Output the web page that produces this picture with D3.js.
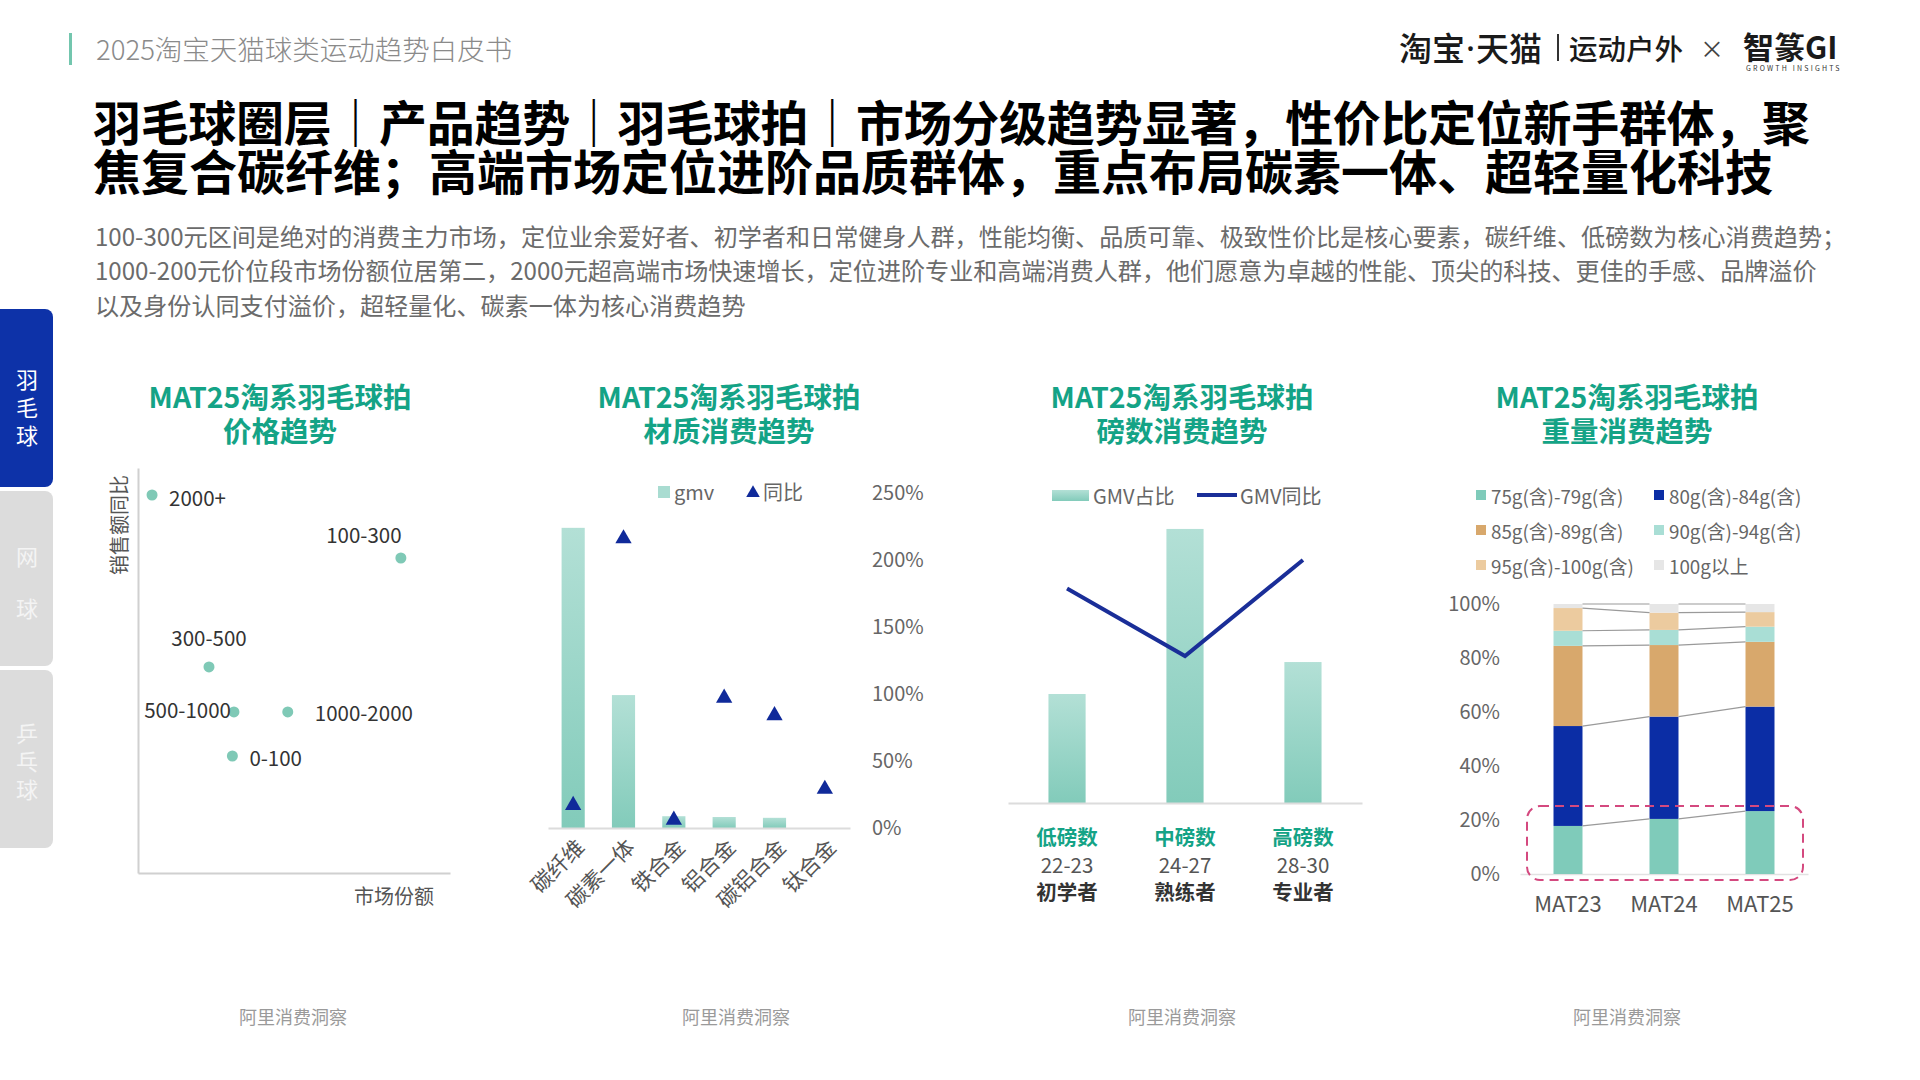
<!DOCTYPE html>
<html><head><meta charset="utf-8">
<script src="https://cdn.jsdelivr.net/npm/d3@7"></script>
<style>
body{margin:0;background:#fff}
svg{display:block}
text{font-family:"Noto Sans CJK SC","Noto Sans",sans-serif}
</style>
</head><body>
<svg id="c" width="1920" height="1080"></svg>
<script>
// ---------- data ----------
const headerText = "2025淘宝天猫球类运动趋势白皮书";
const titleLines = ["羽毛球圈层｜产品趋势｜羽毛球拍｜市场分级趋势显著，性价比定位新手群体，聚",
                    "焦复合碳纤维；高端市场定位进阶品质群体，重点布局碳素一体、超轻量化科技"];
const descLines = ["100-300元区间是绝对的消费主力市场，定位业余爱好者、初学者和日常健身人群，性能均衡、品质可靠、极致性价比是核心要素，碳纤维、低磅数为核心消费趋势；",
                   "1000-200元价位段市场份额位居第二，2000元超高端市场快速增长，定位进阶专业和高端消费人群，他们愿意为卓越的性能、顶尖的科技、更佳的手感、品牌溢价",
                   "以及身份认同支付溢价，超轻量化、碳素一体为核心消费趋势"];
const tabs = [["羽","毛","球"],["网","球"],["乒","乓","球"]];
const chartTitles = [["MAT25淘系羽毛球拍","价格趋势"],["MAT25淘系羽毛球拍","材质消费趋势"],
                     ["MAT25淘系羽毛球拍","磅数消费趋势"],["MAT25淘系羽毛球拍","重量消费趋势"]];
const sourceText = "阿里消费洞察";

// chart 1: price bands (x = market share %, y = sales YoY %)
const priceBands = ["2000+","100-300","300-500","500-1000","1000-2000","0-100"];
const priceShare = [1.8, 33.7, 9.1, 12.3, 19.2, 12.1];
const priceGrowth = [54, 40, 15.8, 5.8, 5.8, -4];

// chart 2: materials
const materials = ["碳纤维","碳素一体","铁合金","铝合金","碳铝合金","钛合金"];
const materialGmv = [0.56, 0.248, 0.022, 0.0205, 0.019, 0];
const materialYoY = [0.17, 2.16, 0.06, 0.97, 0.84, 0.29];
const yoyTicks = [0, 0.5, 1, 1.5, 2, 2.5];

// chart 3: string tension
const tensionGroups = ["低磅数","中磅数","高磅数"];
const tensionRanges = ["22-23","24-27","28-30"];
const tensionUsers = ["初学者","熟练者","专业者"];
const tensionShare = [20.8, 52.3, 26.9];
const tensionYoY = [68.3, 46.8, 77.4];

// chart 4: weight (share %, stacked)
const periods = ["MAT23","MAT24","MAT25"];
const weightSeries = ["75g(含)-79g(含)","80g(含)-84g(含)","85g(含)-89g(含)","90g(含)-94g(含)","95g(含)-100g(含)","100g以上"];
const w75_79  = [17.8, 20.4, 23.3];
const w80_84  = [37.0, 37.9, 38.7];
const w85_89  = [29.7, 26.5, 24.0];
const w90_94  = [5.6, 5.6, 5.6];
const w95_100 = [8.4, 6.4, 5.4];
const w100up  = [1.5, 3.2, 3.0];
const weightTicks = [0, 20, 40, 60, 80, 100];

// ---------- drawing ----------
const svg = d3.select("#c");
const teal = "#14a386";
const dotColor = "#7fc9b6";

const defs = svg.append("defs");
const grad = defs.append("linearGradient").attr("id","barGrad").attr("x1",0).attr("y1",0).attr("x2",0).attr("y2",1);
grad.append("stop").attr("offset","0%").attr("stop-color","#b3e0d6");
grad.append("stop").attr("offset","100%").attr("stop-color","#82cbba");

// header
svg.append("rect").attr("x",69).attr("y",33).attr("width",3).attr("height",32).attr("fill","#73c6ae");
svg.append("text").attr("x",96).attr("y",48).attr("dominant-baseline","central")
  .attr("font-size",27.5).attr("font-weight",300).attr("fill","#8a8a8a").text(headerText);

// logo
const logo = svg.append("g");
const brand = logo.append("text").attr("x",1399).attr("y",47).attr("dominant-baseline","central")
  .attr("font-size",33).attr("font-weight",500).attr("fill","#1a1a1a");
brand.append("tspan").text("淘宝");
brand.append("tspan").attr("font-family","Noto Sans").attr("dx",1).text("·");
brand.append("tspan").attr("dx",1).text("天猫");
logo.append("rect").attr("x",1557).attr("y",34).attr("width",2).attr("height",27).attr("fill","#333");
logo.append("text").attr("x",1569).attr("y",47).attr("dominant-baseline","central")
  .attr("font-size",28.5).attr("font-weight",500).attr("fill","#1a1a1a").text("运动户外");
logo.append("text").attr("x",1712).attr("y",47).attr("dominant-baseline","central").attr("text-anchor","middle")
  .attr("font-size",24).attr("fill","#444").text("×");
logo.append("text").attr("x",1743).attr("y",45).attr("dominant-baseline","central")
  .attr("font-size",31).attr("font-weight",700).attr("fill","#1a1a1a").text("智篆GI");
logo.append("text").attr("x",1746).attr("y",68).attr("dominant-baseline","central")
  .attr("font-size",7).attr("letter-spacing",2.2).attr("fill","#333").text("GROWTH  INSIGHTS");

// title
titleLines.forEach((t,i)=>{
  const tx = svg.append("text").attr("x",93).attr("y",120+i*49).attr("dominant-baseline","central")
    .attr("font-size",48).attr("font-weight",700).attr("fill","#000").text(t);
  if(i===0) tx.attr("textLength",1717).attr("lengthAdjust","spacing");
});
descLines.forEach((t,i)=>{
  svg.append("text").attr("x",95).attr("y",235+i*34.5).attr("dominant-baseline","central")
    .attr("font-size",24.1).attr("fill","#6b6b6b").text(t);
});

// side tabs
const tabBoxes = [[309,487],[491,666],[670,848]];
tabs.forEach((chars,i)=>{
  const [y0,y1] = tabBoxes[i];
  svg.append("rect").attr("x",-10).attr("y",y0).attr("width",63).attr("height",y1-y0).attr("rx",8)
    .attr("fill", i===0 ? "#0d32a8" : "#dcdcdc");
  const ys = i===0 ? [378,406,434] : (i===1 ? [555,607] : [732,760,788]);
  chars.forEach((c,j)=>{
    svg.append("text").attr("x",27).attr("y",ys[j]).attr("text-anchor","middle").attr("dominant-baseline","central")
      .attr("font-size",22).attr("fill", i===0 ? "#fff" : "#f4f4f4").text(c);
  });
});

// chart titles and sources
const titleCx = [280, 729, 1182, 1627];
const sourceCx = [293, 736, 1182, 1627];
chartTitles.forEach((lines,i)=>{
  lines.forEach((t,j)=>{
    svg.append("text").attr("x",titleCx[i]).attr("y",395+j*34).attr("text-anchor","middle").attr("dominant-baseline","central")
      .attr("font-size",28.5).attr("font-weight",700).attr("fill",teal).text(t);
  });
  svg.append("text").attr("x",sourceCx[i]).attr("y",1016).attr("text-anchor","middle").attr("dominant-baseline","central")
    .attr("font-size",18).attr("fill","#9a9a9a").text(sourceText);
});

// ----- chart 1: scatter -----
{
  const g = svg.append("g");
  const x = d3.scaleLinear().domain([0,40]).range([138,450]);
  const y = d3.scaleLinear().domain([-30,60]).range([873,468]);
  g.append("g").attr("transform","translate(0,873)")
    .call(d3.axisBottom(x).ticks(0).tickSize(0).tickFormat(""))
    .call(s=>s.select(".domain").attr("stroke","#d0d0d0").attr("stroke-width",2));
  g.append("g").attr("transform","translate(138,0)")
    .call(d3.axisLeft(y).ticks(0).tickSize(0).tickFormat(""))
    .call(s=>s.select(".domain").attr("stroke","#d0d0d0").attr("stroke-width",2));
  g.append("text").attr("transform","translate(118,525) rotate(-90)").attr("text-anchor","middle").attr("dominant-baseline","central")
    .attr("font-size",20).attr("fill","#555").text("销售额同比");
  g.append("text").attr("x",394).attr("y",895).attr("text-anchor","middle").attr("dominant-baseline","central")
    .attr("font-size",20).attr("fill","#555").text("市场份额");
  const pts = priceBands.map((b,i)=>({b, s:priceShare[i], g:priceGrowth[i]}));
  g.selectAll("circle").data(pts).join("circle")
    .attr("cx",d=>x(d.s)).attr("cy",d=>y(d.g)).attr("r",5.5).attr("fill",dotColor);
  // label placement relative to dot: [dx, dy, anchor]
  const place = {"2000+":[17,2,"start"],"100-300":[-37,-24,"middle"],"300-500":[0,-30,"middle"],
                 "500-1000":[-3,-3,"end"],"1000-2000":[27,0,"start"],"0-100":[17,1,"start"]};
  g.selectAll("text.lbl").data(pts).join("text").attr("class","lbl")
    .attr("x",d=>x(d.s)+place[d.b][0]).attr("y",d=>y(d.g)+place[d.b][1])
    .attr("text-anchor",d=>place[d.b][2]).attr("dominant-baseline","central")
    .attr("font-size",20.5).attr("fill","#333").text(d=>d.b);
}

// ----- chart 2: material bars + triangles -----
{
  const g = svg.append("g");
  const x = d3.scaleBand().domain(materials).range([548,850]).paddingInner(0.54).paddingOuter(0.27);
  const yR = d3.scaleLinear().domain([0,2.5]).range([828,493]);
  const yG = d3.scaleLinear().domain([0,0.625]).range([828,493]);
  g.selectAll("rect.bar").data(materials).join("rect").attr("class","bar")
    .attr("x",d=>x(d)).attr("width",x.bandwidth())
    .attr("y",(d,i)=>yG(materialGmv[i])).attr("height",(d,i)=>828-yG(materialGmv[i]))
    .attr("fill","url(#barGrad)");
  g.append("g").attr("transform","translate(0,828)")
    .call(d3.axisBottom(x).tickSize(0).tickFormat(""))
    .call(s=>s.select(".domain").attr("stroke","#dcdcdc").attr("stroke-width",2));
  g.append("g").attr("transform","translate(872,0)")
    .call(d3.axisRight(yR).tickValues(yoyTicks).tickSize(0).tickPadding(0).tickFormat(d3.format(".0%")))
    .call(s=>{s.select(".domain").remove();
      s.selectAll("text").attr("font-size",20).attr("fill","#666").attr("font-family","Noto Sans CJK SC");});
  g.selectAll("path.tri").data(materials).join("path").attr("class","tri")
    .attr("d",d3.symbol(d3.symbolTriangle,115))
    .attr("transform",(d,i)=>`translate(${x(d)+x.bandwidth()/2},${yR(materialYoY[i])})`)
    .attr("fill","#102a9a");
  g.selectAll("text.xl").data(materials).join("text").attr("class","xl")
    .attr("transform",d=>`translate(${x(d)+x.bandwidth()/2+6},${842}) rotate(-45)`)
    .attr("text-anchor","end").attr("dominant-baseline","central")
    .attr("font-size",21.5).attr("fill","#555").text(d=>d);
  // legend
  g.append("rect").attr("x",658).attr("y",486).attr("width",12).attr("height",12).attr("fill","#a9dcd1");
  g.append("text").attr("x",674).attr("y",491).attr("dominant-baseline","central").attr("font-size",20).attr("fill","#666").text("gmv");
  g.append("path").attr("d",d3.symbol(d3.symbolTriangle,80)).attr("transform","translate(753,493)").attr("fill","#102a9a");
  g.append("text").attr("x",763).attr("y",491).attr("dominant-baseline","central").attr("font-size",20).attr("fill","#666").text("同比");
}

// ----- chart 3: tension bars + line -----
{
  const g = svg.append("g");
  const x = d3.scaleBand().domain(tensionGroups).range([1008,1362]).paddingInner(0.685).paddingOuter(0.343);
  const yS = d3.scaleLinear().domain([0,60]).range([803,488.6]);
  const yL = d3.scaleLinear().domain([0,100]).range([803,489]);
  g.selectAll("rect.bar").data(tensionGroups).join("rect").attr("class","bar")
    .attr("x",d=>x(d)).attr("width",x.bandwidth())
    .attr("y",(d,i)=>yS(tensionShare[i])).attr("height",(d,i)=>803-yS(tensionShare[i]))
    .attr("fill","url(#barGrad)");
  g.append("g").attr("transform","translate(0,803)")
    .call(d3.axisBottom(x).tickSize(0).tickFormat(""))
    .call(s=>s.select(".domain").attr("stroke","#dcdcdc").attr("stroke-width",2));
  const line = d3.line().x(d=>x(d.g)+x.bandwidth()/2).y(d=>yL(d.v));
  g.append("path").datum(tensionGroups.map((gname,i)=>({g:gname,v:tensionYoY[i]})))
    .attr("d",line).attr("fill","none").attr("stroke","#1a2e98").attr("stroke-width",4).attr("stroke-linejoin","miter");
  tensionGroups.forEach((t,i)=>{
    const cx = x(t)+x.bandwidth()/2;
    g.append("text").attr("x",cx).attr("y",836).attr("text-anchor","middle").attr("dominant-baseline","central")
      .attr("font-size",20.5).attr("font-weight",700).attr("fill",teal).text(t);
    g.append("text").attr("x",cx).attr("y",864).attr("text-anchor","middle").attr("dominant-baseline","central")
      .attr("font-size",20.5).attr("fill","#555").text(tensionRanges[i]);
    g.append("text").attr("x",cx).attr("y",891).attr("text-anchor","middle").attr("dominant-baseline","central")
      .attr("font-size",20.5).attr("font-weight",700).attr("fill","#333").text(tensionUsers[i]);
  });
  // legend
  g.append("rect").attr("x",1052).attr("y",490).attr("width",37).attr("height",11).attr("fill","url(#barGrad)");
  g.append("text").attr("x",1093).attr("y",495).attr("dominant-baseline","central").attr("font-size",20).attr("fill","#666").text("GMV占比");
  g.append("line").attr("x1",1197).attr("x2",1237).attr("y1",495).attr("y2",495).attr("stroke","#1a2e98").attr("stroke-width",4);
  g.append("text").attr("x",1240).attr("y",495).attr("dominant-baseline","central").attr("font-size",20).attr("fill","#666").text("GMV同比");
}

// ----- chart 4: stacked weight bars -----
{
  const g = svg.append("g");
  const colors = ["#7fcbba","#0b2da5","#d8a86c","#a9ded5","#eccb9f","#e6e6e6"];
  const seriesVals = [w75_79, w80_84, w85_89, w90_94, w95_100, w100up];
  const rows = periods.map((p,i)=>{const o={period:p}; weightSeries.forEach((s,k)=>o[s]=seriesVals[k][i]); return o;});
  const stack = d3.stack().keys(weightSeries)(rows);
  const x = d3.scaleBand().domain(periods).range([1520,1808]).paddingInner(0.698).paddingOuter(0.349);
  const y = d3.scaleLinear().domain([0,100]).range([874,604]);
  g.append("g").attr("transform","translate(0,874)")
    .call(d3.axisBottom(x).tickSize(0).tickPadding(22))
    .call(s=>{s.select(".domain").attr("stroke","#e2e2e2").attr("stroke-width",1.5);
      s.selectAll("text").attr("font-size",22).attr("fill","#555").attr("font-family","Noto Sans CJK SC");});
  g.append("g").attr("transform","translate(1500,0)")
    .call(d3.axisLeft(y).tickValues(weightTicks).tickSize(0).tickPadding(0).tickFormat(d=>d+"%"))
    .call(s=>{s.select(".domain").remove();
      s.selectAll("text").attr("font-size",20).attr("fill","#666").attr("font-family","Noto Sans CJK SC");});
  stack.forEach((layer,k)=>{
    g.selectAll(null).data(layer).join("rect")
      .attr("x",d=>x(d.data.period)).attr("width",x.bandwidth())
      .attr("y",d=>y(d[1])).attr("height",d=>y(d[0])-y(d[1])).attr("fill",colors[k]);
  });
  // connector lines
  stack.forEach(layer=>{
    for(let i=0;i<layer.length-1;i++){
      g.append("line")
        .attr("x1",x(periods[i])+x.bandwidth()).attr("y1",y(layer[i][1]))
        .attr("x2",x(periods[i+1])).attr("y2",y(layer[i+1][1]))
        .attr("stroke","#9a9a9a").attr("stroke-width",1.2);
    }
  });
  // dashed highlight
  g.append("rect").attr("x",1527).attr("y",806).attr("width",276).attr("height",74).attr("rx",13)
    .attr("fill","none").attr("stroke","#d4497f").attr("stroke-width",2).attr("stroke-dasharray","9,6");
  // legend
  const lx = [1476,1654], ly = [495,530,565];
  weightSeries.forEach((s,k)=>{
    const cx = lx[k%2], cy = ly[Math.floor(k/2)];
    g.append("rect").attr("x",cx).attr("y",cy-5).attr("width",10).attr("height",10).attr("fill",colors[k]);
    g.append("text").attr("x",cx+15).attr("y",cy).attr("dominant-baseline","central")
      .attr("font-size",18.8).attr("fill","#666").text(s);
  });
}
</script>
</body></html>
